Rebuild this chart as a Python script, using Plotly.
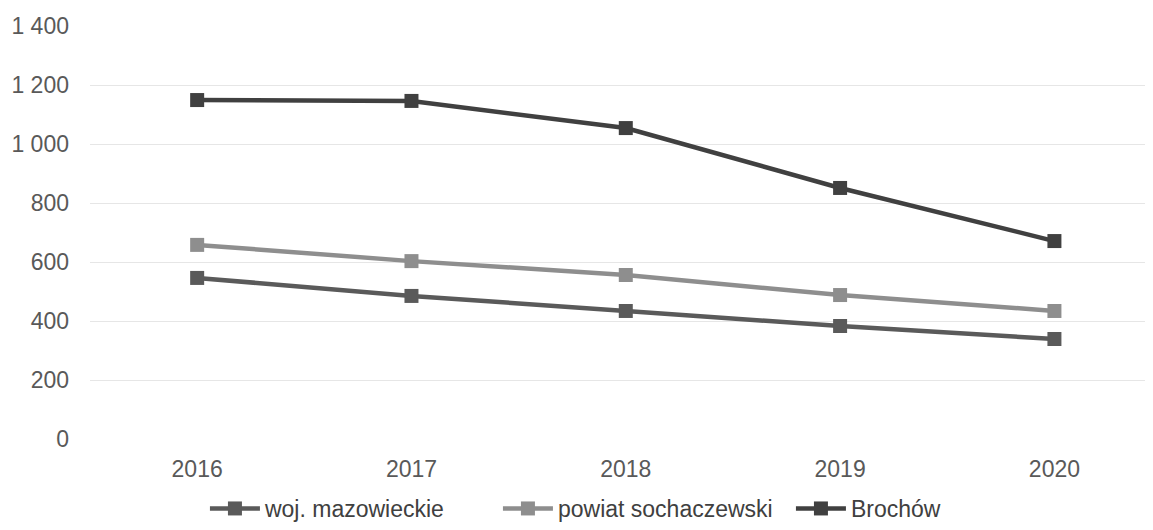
import plotly.graph_objects as go

years = ['2016', '2017', '2018', '2019', '2020']
woj = [546, 485, 434, 383, 339]
powiat = [658, 603, 556, 488, 434]
brochow = [1149, 1146, 1054, 851, 671]

names = ['woj. mazowieckie', 'powiat sochaczewski', 'Brochów']
colors = ['#5a5a5a', '#8e8e8e', '#404040']

fig = go.Figure()
for name, vals, col in zip(names, [woj, powiat, brochow], colors):
    fig.add_trace(go.Scatter(x=years, y=vals, name=name, mode='lines+markers',
                             line=dict(color=col, width=4.5),
                             marker=dict(symbol='square', size=14, color=col)))

# the page body adds an 8px offset, so the figure is a bit smaller than the window
fig.update_layout(
    width=1145, height=522,
    margin=dict(l=82, r=0, t=18, b=91),
    plot_bgcolor='white', paper_bgcolor='white',
    font=dict(family='Liberation Sans, Arial', size=23, color='#595959'),
    separators=', ',
    showlegend=True,
    legend=dict(orientation='h', x=0.172, xanchor='left', xref='container',
                y=0.0, yanchor='bottom', yref='container',
                font=dict(size=23, color='#404040'), tracegroupgap=0,
                itemwidth=50, entrywidth=228, entrywidthmode='pixels'),
)
fig.update_xaxes(type='category', range=[-0.5, 4.46], showgrid=False, zeroline=False,
                 showline=False, ticks='', automargin=False, ticklabelstandoff=14,
                 tickfont=dict(size=23, color='#595959'))
fig.update_yaxes(range=[0, 1400], dtick=200, showgrid=True, gridcolor='#e6e6e6',
                 gridwidth=1, zeroline=False, showline=False, tickformat=',',
                 automargin=False, ticklabelstandoff=20,
                 tickfont=dict(size=23, color='#595959'))

fig.write_html("out.html")
